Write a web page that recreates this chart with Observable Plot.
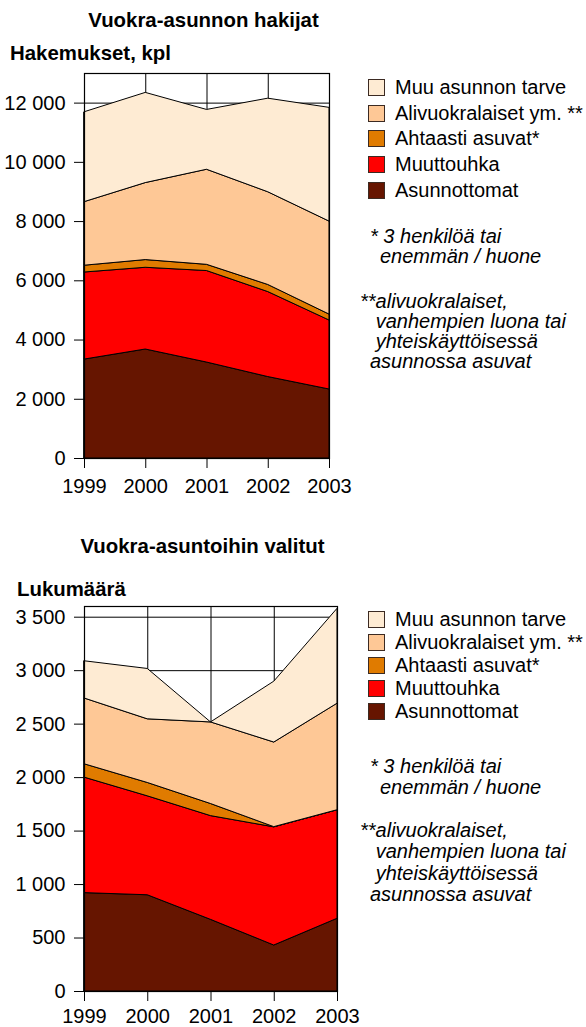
<!DOCTYPE html>
<html>
<head>
<meta charset="utf-8">
<script src="https://cdn.jsdelivr.net/npm/d3@7"></script>
<script src="https://cdn.jsdelivr.net/npm/@observablehq/plot@0.6"></script>
<style>
  html, body { margin: 0; padding: 0; background: #fff; overflow: hidden; }
  #root { position: relative; width: 586px; height: 1027px; font-family: "Liberation Sans", Arial, sans-serif; color: #000; }
  #root svg text { font-size: 20px; font-family: "Liberation Sans", Arial, sans-serif; font-variant-numeric: normal; }
  .abs { position: absolute; white-space: nowrap; font-size: 20px; line-height: 20px; }
  .bold { font-weight: bold; font-size: 20.4px; }
  .it { font-style: italic; }
  .sw { position: absolute; width: 15px; height: 15px; border: 1px solid #3b2a22; }
</style>
</head>
<body>
<div id="root"></div>
<script>
// ---- data ----
const years = [1999, 2000, 2001, 2002, 2003];
const seriesNames = ["Asunnottomat", "Muuttouhka", "Ahtaasti asuvat*", "Alivuokralaiset ym. **", "Muu asunnon tarve"];
const seriesColors = ["#661500", "#ff0000", "#e07b00", "#fec896", "#feebd3"];

// Vuokra-asunnon hakijat (hakemukset, kpl)
const hakijatAsunnottomat = [3340, 3680, 3240, 2750, 2330];
const hakijatMuuttouhka   = [2940, 2760, 3090, 2870, 2330];
const hakijatAhtaasti     = [230, 260, 210, 240, 200];
const hakijatAlivuokr     = [2145, 2600, 3210, 3130, 3140];
const hakijatMuu          = [3035, 3045, 2020, 3160, 3840];
const hakijatTicks = [0, 2000, 4000, 6000, 8000, 10000, 12000];

// Vuokra-asuntoihin valitut (lukumäärä)
const valitutAsunnottomat = [920, 900, 670, 430, 680];
const valitutMuuttouhka   = [1080, 925, 970, 1105, 1015];
const valitutAhtaasti     = [125, 125, 113, 2, 0];
const valitutAlivuokr     = [615, 595, 763, 791, 996];
const valitutMuu          = [348, 471, 0, 569, 887];
const valitutTicks = [0, 500, 1000, 1500, 2000, 2500, 3000, 3500];

const legendOrder = ["Muu asunnon tarve", "Alivuokralaiset ym. **", "Ahtaasti asuvat*", "Muuttouhka", "Asunnottomat"];

function toRows(lists) {
  const rows = [];
  lists.forEach((vals, si) => {
    vals.forEach((v, i) => rows.push({ year: years[i], series: seriesNames[si], value: v }));
  });
  return rows;
}
const fmt = d => String(d).replace(/\B(?=(\d{3})+(?!\d))/g, " ");

function chart(rows, ticks, yMax, width, height, mTop, mBottom, xPad) {
  return Plot.plot({
    width, height,
    marginLeft: 84, marginRight: 31, marginTop: mTop, marginBottom: mBottom,
    style: { fontFamily: '"Liberation Sans", Arial, sans-serif', fontSize: "20px", color: "#000", background: "transparent" },
    x: { type: "linear", domain: [1999, 2003] },
    y: { domain: [0, yMax] },
    color: { domain: seriesNames, range: seriesColors, legend: false },
    marks: [
      Plot.ruleX(years, { stroke: "#000", strokeWidth: 1 }),
      Plot.ruleY(ticks, { stroke: "#000", strokeWidth: 1 }),
      Plot.areaY(rows, { x: "year", y: "value", fill: "series", order: seriesNames, stroke: "#000", strokeWidth: 1, curve: "linear" }),
      Plot.frame({ stroke: "#000", strokeWidth: 1.2 }),
      Plot.axisY({ ticks, tickFormat: fmt, tickSize: 10, tickPadding: 9, fontSize: 20, label: null }),
      Plot.axisX({ ticks: years, tickFormat: d => String(d), tickSize: 10, tickPadding: xPad, fontSize: 20, label: null })
    ]
  });
}

const root = document.getElementById("root");
function addText(txt, left, baseline, cls, extra) {
  const d = document.createElement("div");
  d.className = "abs " + (cls || "");
  d.textContent = txt;
  d.style.left = left + "px";
  d.style.top = (baseline - 17) + "px";
  if (extra) Object.assign(d.style, extra);
  root.appendChild(d);
  return d;
}
function addSvg(svg, top) {
  const w = document.createElement("div");
  w.style.position = "absolute";
  w.style.left = "0px";
  w.style.top = top + "px";
  w.appendChild(svg);
  root.appendChild(w);
}
function addLegend(centers) {
  legendOrder.forEach((name, i) => {
    const c = centers[i];
    const s = document.createElement("div");
    s.className = "sw";
    s.style.left = "368px";
    s.style.top = (c - 8) + "px";
    s.style.background = seriesColors[seriesNames.indexOf(name)];
    root.appendChild(s);
    addText(name, 395, c + 7);
  });
}
function addNotes(b) {
  addText("* 3 henkilöä tai", 370, b[0], "it");
  addText("enemmän / huone", 380, b[1], "it");
  addText("**alivuokralaiset,", 360, b[2], "it");
  addText("vanhempien luona tai", 375.7, b[3], "it");
  addText("yhteiskäyttöisessä", 375.7, b[4], "it");
  addText("asunnossa asuvat", 370, b[5], "it");
}

// ---- top chart ----
addText("Vuokra-asunnon hakijat", 0, 27.3, "bold", { width: "407px", textAlign: "center" });
addText("Hakemukset, kpl", 10, 60, "bold");
addSvg(chart(toRows([hakijatAsunnottomat, hakijatMuuttouhka, hakijatAhtaasti, hakijatAlivuokr, hakijatMuu]), hakijatTicks, 13000, 360, 443, 13, 45, 10), 60);
addLegend([87, 112.7, 138.3, 164, 189.5]);
addNotes([243, 262.7, 308.3, 328.3, 348.3, 368.3]);

// ---- bottom chart ----
addText("Vuokra-asuntoihin valitut", 0, 553.3, "bold", { width: "405px", textAlign: "center" });
addText("Lukumäärä", 17, 596, "bold");
addSvg(chart(toRows([valitutAsunnottomat, valitutMuuttouhka, valitutAhtaasti, valitutAlivuokr, valitutMuu]), valitutTicks, 3600, 368, 431, 10, 36, 7), 596);
addLegend([619.3, 641.7, 665, 687.7, 711]);
addNotes([773.3, 794, 836.7, 858.3, 879.5, 900.5]);
</script>
</body>
</html>
